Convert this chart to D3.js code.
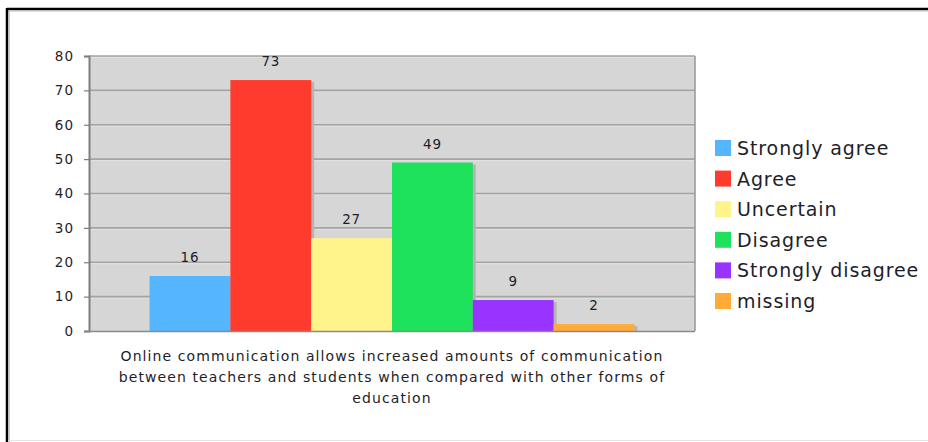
<!DOCTYPE html>
<html>
<head>
<meta charset="utf-8">
<script src="https://cdn.jsdelivr.net/npm/d3@7"></script>
<style>
  html, body { margin: 0; padding: 0; background: #fff; }
  svg { display: block; }
  text { font-family: "DejaVu Sans", Verdana, sans-serif; fill: #1e1e2a; }
</style>
</head>
<body>
<svg id="chart" width="928" height="442"></svg>
<script>
// Survey responses for a single statement
const responses = ["Strongly agree", "Agree", "Uncertain", "Disagree", "Strongly disagree", "missing"];
const counts = [16, 73, 27, 49, 9, 2];
const colors = ["#55b5ff", "#ff3b2e", "#fff38c", "#1ee25c", "#9933ff", "#ffab35"];
const yTicks = [0, 10, 20, 30, 40, 50, 60, 70, 80];
const questionLines = [
  "Online communication allows increased amounts of communication",
  "between teachers and students when compared with other forms of",
  "education"
];

const svg = d3.select("#chart");

// outer frame: dark line on the top and left, faint line at the bottom
svg.append("line").attr("x1", 7).attr("x2", 928).attr("y1", 9).attr("y2", 9)
  .attr("stroke", "#000").attr("stroke-width", 2.5);
svg.append("line").attr("x1", 7).attr("x2", 928).attr("y1", 11).attr("y2", 11)
  .attr("stroke", "#bbb").attr("stroke-width", 1);
svg.append("line").attr("x1", 7).attr("x2", 7).attr("y1", 8).attr("y2", 442)
  .attr("stroke", "#000").attr("stroke-width", 2.5);
svg.append("line").attr("x1", 9.5).attr("x2", 9.5).attr("y1", 10).attr("y2", 442)
  .attr("stroke", "#ccc").attr("stroke-width", 1);
svg.append("line").attr("x1", 8).attr("x2", 928).attr("y1", 440.5).attr("y2", 440.5)
  .attr("stroke", "#e4e4e4").attr("stroke-width", 1);

const plot = { left: 89, right: 695, top: 56, bottom: 331 };

const y = d3.scaleLinear().domain([0, 80]).range([plot.bottom, plot.top]);
const x = d3.scaleBand().domain(responses).range([plot.left, plot.right])
  .paddingInner(0).paddingOuter(0.75);

// plot background
svg.append("rect")
  .attr("x", plot.left).attr("y", plot.top)
  .attr("width", plot.right - plot.left).attr("height", plot.bottom - plot.top)
  .attr("fill", "#d6d6d6");

// horizontal gridlines with a faint light edge beneath
const grid = svg.append("g");
yTicks.filter(t => t > 0).forEach(t => {
  grid.append("line").attr("x1", plot.left).attr("x2", plot.right)
    .attr("y1", y(t) + 1.5).attr("y2", y(t) + 1.5)
    .attr("stroke", "#e2e2e2").attr("stroke-width", 1);
  grid.append("line").attr("x1", plot.left).attr("x2", plot.right)
    .attr("y1", y(t)).attr("y2", y(t))
    .attr("stroke", "#a4a4a4").attr("stroke-width", 1.7);
});

// right edge of the plot area
svg.append("line").attr("x1", plot.right).attr("x2", plot.right)
  .attr("y1", plot.top).attr("y2", plot.bottom)
  .attr("stroke", "#9c9c9c").attr("stroke-width", 1.6);

// bar shadows
svg.append("g").selectAll("rect").data(counts).join("rect")
  .attr("x", (d, i) => x(responses[i]) + 3)
  .attr("y", d => y(d) + 2)
  .attr("width", x.bandwidth())
  .attr("height", d => plot.bottom - y(d) - 2)
  .attr("fill", "#b4b4b4");

// bars
svg.append("g").selectAll("rect").data(counts).join("rect")
  .attr("x", (d, i) => x(responses[i]))
  .attr("y", d => y(d))
  .attr("width", x.bandwidth())
  .attr("height", d => plot.bottom - y(d))
  .attr("fill", (d, i) => colors[i]);

// value labels above each bar
svg.append("g").selectAll("text").data(counts).join("text")
  .attr("x", (d, i) => x(responses[i]) + x.bandwidth() / 2)
  .attr("y", d => y(d) - 14)
  .attr("text-anchor", "middle")
  .attr("font-size", 13.5)
  .attr("letter-spacing", 0.8)
  .text(d => d);

// y axis
const yAxis = svg.append("g")
  .attr("transform", `translate(${plot.left},0)`)
  .call(d3.axisLeft(y).tickValues(yTicks).tickSize(5).tickPadding(10));
yAxis.select(".domain").attr("stroke", "#7e7e7e").attr("stroke-width", 2);
yAxis.selectAll(".tick line").attr("stroke", "#7e7e7e").attr("stroke-width", 1.2);
yAxis.selectAll(".tick text")
  .attr("font-size", 13.5)
  .attr("letter-spacing", 1)
  .attr("font-family", "'DejaVu Sans', Verdana, sans-serif")
  .attr("fill", "#1e1e2a");

// x baseline
svg.append("line").attr("x1", plot.left - 4).attr("x2", plot.right)
  .attr("y1", plot.bottom + 0.5).attr("y2", plot.bottom + 0.5)
  .attr("stroke", "#8a8a8a").attr("stroke-width", 1.6);

// category caption under the plot
const caption = svg.append("text")
  .attr("x", (plot.left + plot.right) / 2)
  .attr("y", 361)
  .attr("text-anchor", "middle")
  .attr("font-size", 14)
  .attr("letter-spacing", 1.1);
caption.selectAll("tspan").data(questionLines).join("tspan")
  .attr("x", (plot.left + plot.right) / 2)
  .attr("dy", (d, i) => i === 0 ? 0 : 21)
  .text(d => d);

// legend
const legend = svg.append("g").attr("transform", "translate(715,140)");
const rows = legend.selectAll("g").data(responses).join("g")
  .attr("transform", (d, i) => `translate(0,${i * 30.6})`);
rows.append("rect")
  .attr("width", 16).attr("height", 16)
  .attr("fill", (d, i) => colors[i]);
rows.append("text")
  .attr("x", 22).attr("y", 15)
  .attr("font-size", 19)
  .attr("letter-spacing", 0.9)
  .text(d => d);
</script>
</body>
</html>
